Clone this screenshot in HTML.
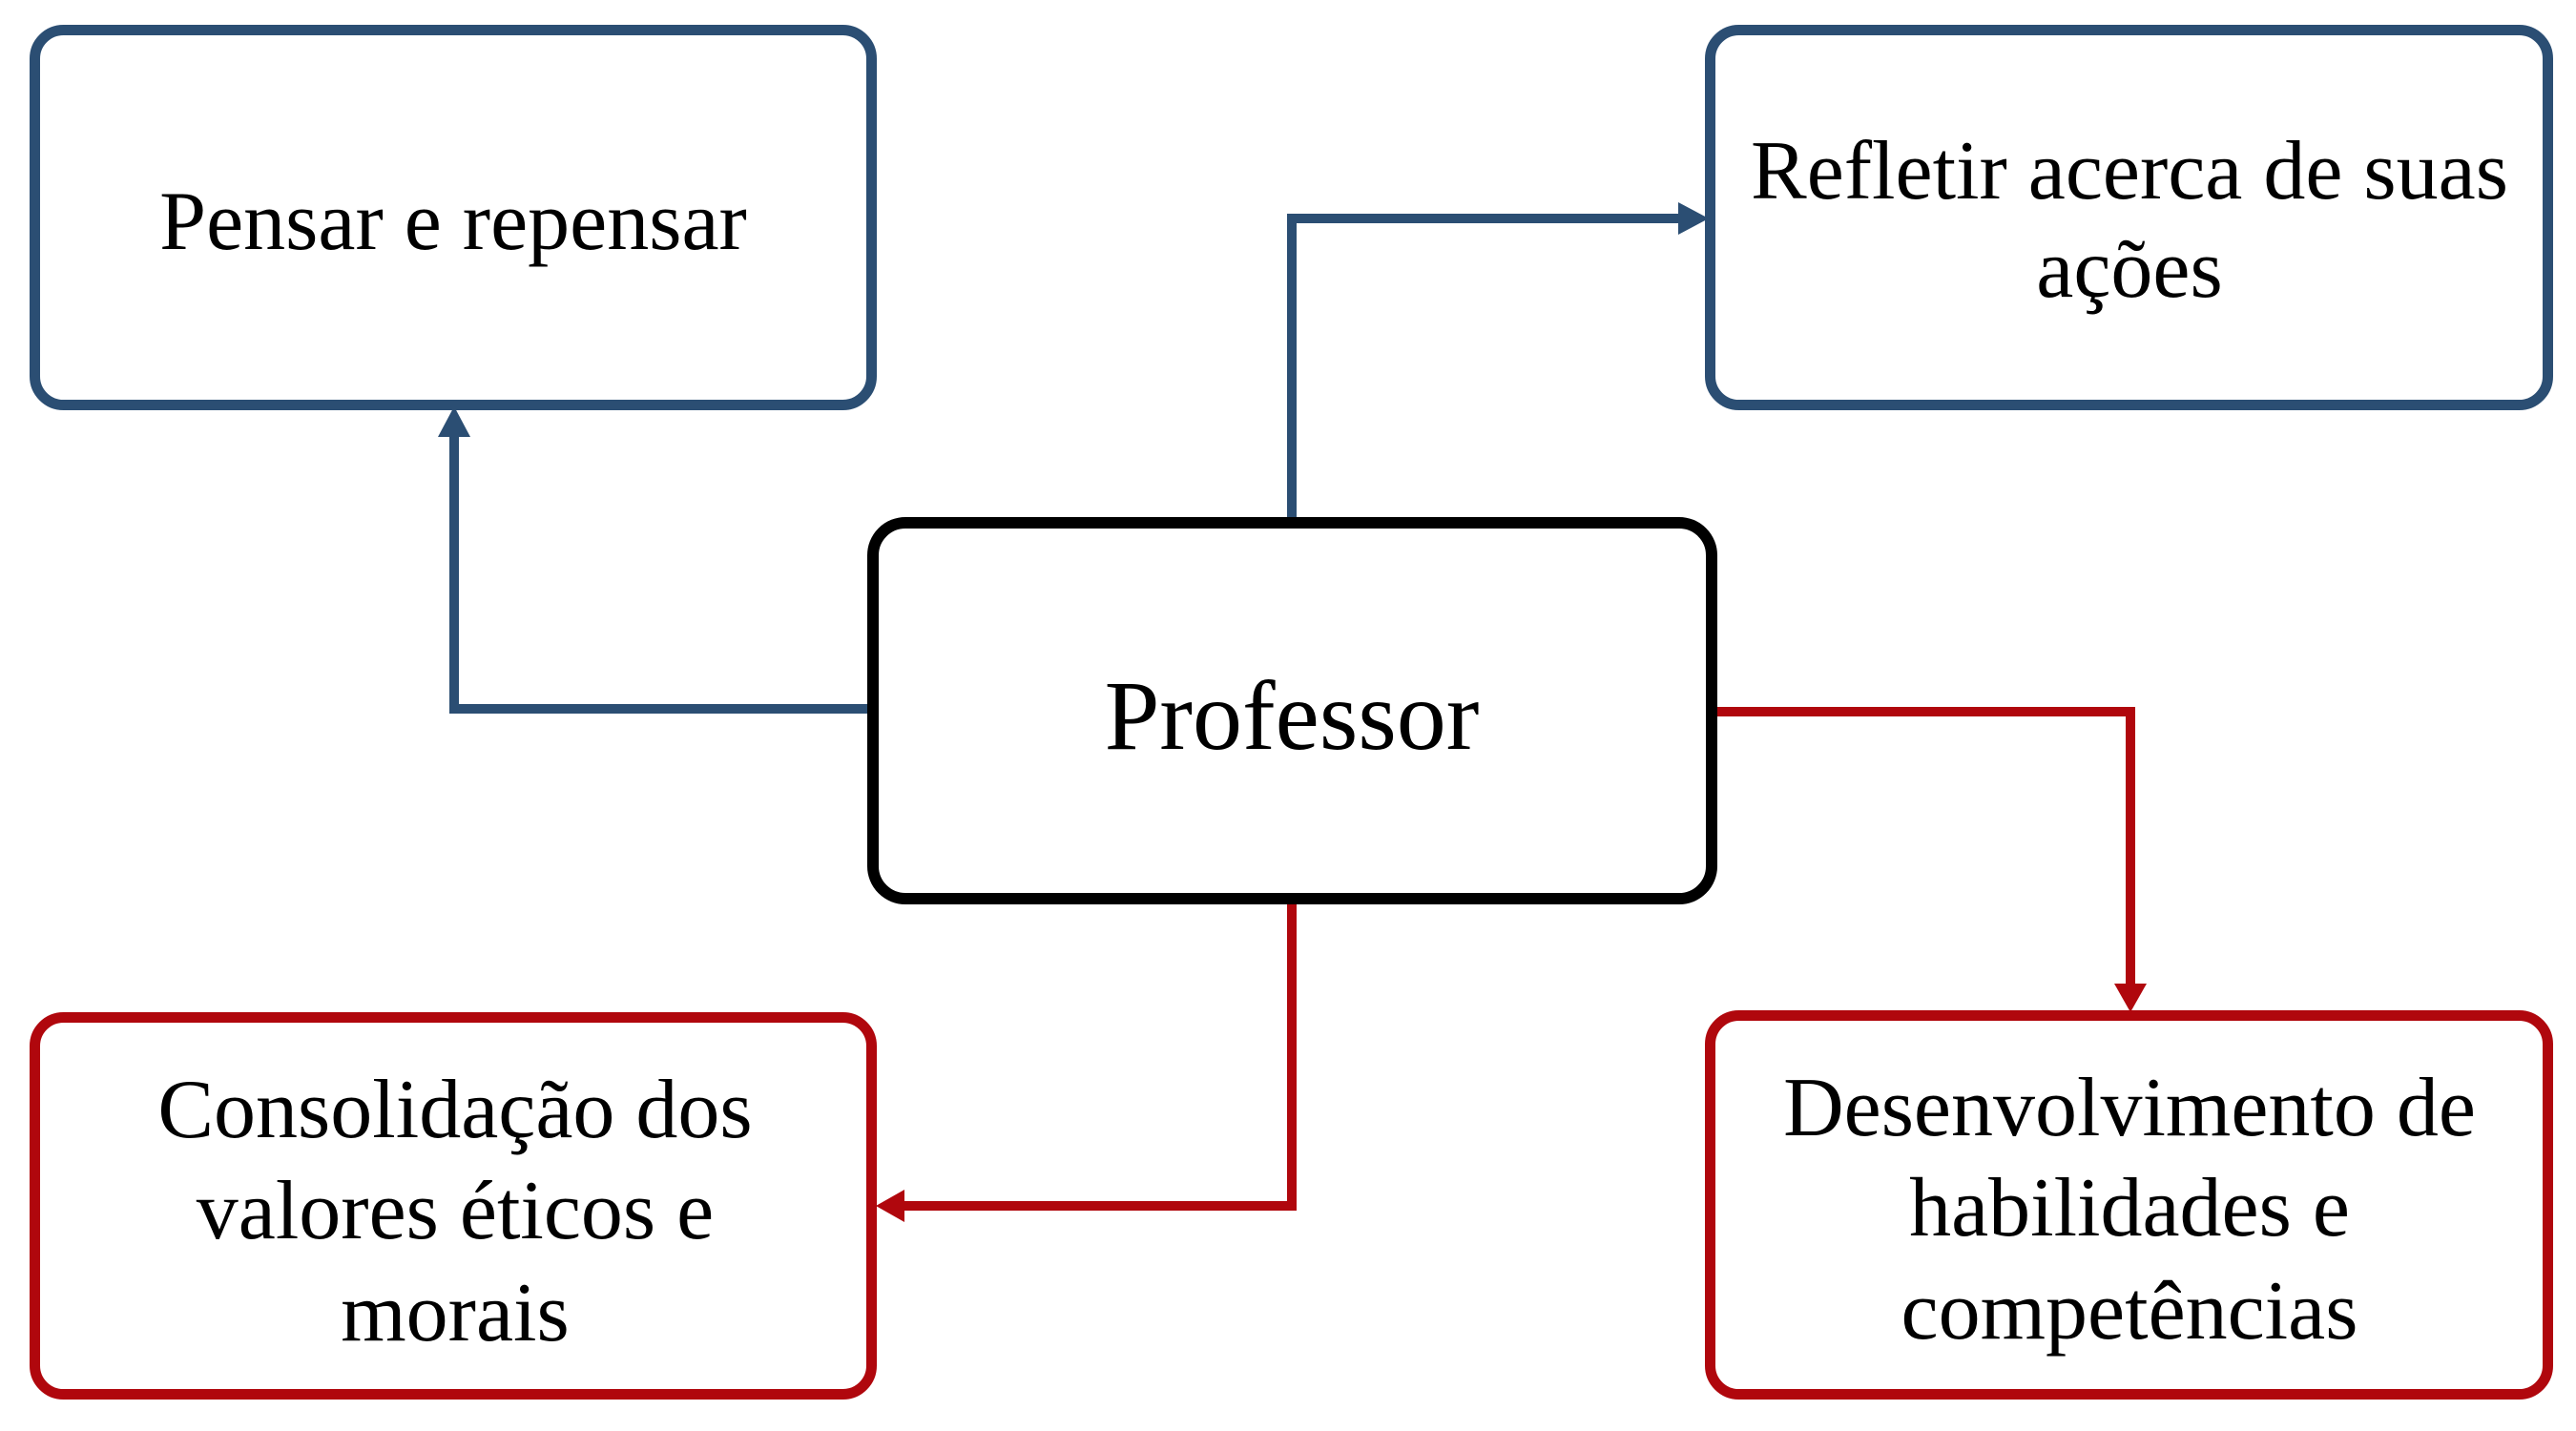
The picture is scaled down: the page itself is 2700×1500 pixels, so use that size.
<!DOCTYPE html>
<html>
<head>
<meta charset="utf-8">
<style>
  html, body { margin: 0; padding: 0; background: #ffffff; }
  body { width: 2700px; height: 1500px; overflow: hidden; }
  svg { display: block; }
  text { font-family: "Liberation Serif", "Times New Roman", serif; fill: #000; }
</style>
</head>
<body>
<svg width="2700" height="1500" viewBox="0 0 2700 1500" xmlns="http://www.w3.org/2000/svg">
  <rect x="0" y="0" width="2700" height="1500" fill="#ffffff"/>

  <!-- Connectors (blue) -->
  <polyline points="909,743 476,743 476,455" fill="none" stroke="#2b4e73" stroke-width="10" stroke-linejoin="miter"/>
  <polygon points="476,426 459,458 493,458" fill="#2b4e73"/>

  <polyline points="1354,542 1354,229 1762,229" fill="none" stroke="#2b4e73" stroke-width="10" stroke-linejoin="miter"/>
  <polygon points="1791,229 1759,212 1759,246" fill="#2b4e73"/>

  <!-- Connectors (red) -->
  <polyline points="1354,948 1354,1264 946,1264" fill="none" stroke="#b0070d" stroke-width="10" stroke-linejoin="miter"/>
  <polygon points="918,1264 948,1247 948,1281" fill="#b0070d"/>

  <polyline points="1800,746 2233,746 2233,1034" fill="none" stroke="#b0070d" stroke-width="10" stroke-linejoin="miter"/>
  <polygon points="2233,1061 2216,1031 2250,1031" fill="#b0070d"/>

  <!-- Box 1: Pensar e repensar -->
  <rect x="36.5" y="31.5" width="877" height="393" rx="30" ry="30" fill="#ffffff" stroke="#2b4e73" stroke-width="11"/>
  <text x="475" y="261" font-size="88" text-anchor="middle">Pensar e repensar</text>

  <!-- Box 2: Refletir acerca de suas ações -->
  <rect x="1792.5" y="31.5" width="878" height="393" rx="30" ry="30" fill="#ffffff" stroke="#2b4e73" stroke-width="11"/>
  <text x="2232" y="208" font-size="88" text-anchor="middle">Refletir acerca de suas</text>
  <text x="2232" y="311" font-size="88" text-anchor="middle">ações</text>

  <!-- Central: Professor -->
  <rect x="915" y="548" width="879" height="394" rx="34" ry="34" fill="#ffffff" stroke="#000000" stroke-width="12"/>
  <text x="1354" y="785" font-size="104" text-anchor="middle">Professor</text>

  <!-- Box 3: Consolidação dos valores éticos e morais -->
  <rect x="36.5" y="1066.5" width="877" height="395" rx="30" ry="30" fill="#ffffff" stroke="#b0070d" stroke-width="11"/>
  <text x="477" y="1192" font-size="88" text-anchor="middle">Consolidação dos</text>
  <text x="477" y="1298" font-size="88" text-anchor="middle">valores éticos e</text>
  <text x="477" y="1405" font-size="88" text-anchor="middle">morais</text>

  <!-- Box 4: Desenvolvimento de habilidades e competências -->
  <rect x="1792.5" y="1064.5" width="878" height="397" rx="30" ry="30" fill="#ffffff" stroke="#b0070d" stroke-width="11"/>
  <text x="2232" y="1190" font-size="88" text-anchor="middle">Desenvolvimento de</text>
  <text x="2232" y="1295" font-size="88" text-anchor="middle">habilidades e</text>
  <text x="2232" y="1403" font-size="88" text-anchor="middle">competências</text>
</svg>
</body>
</html>
